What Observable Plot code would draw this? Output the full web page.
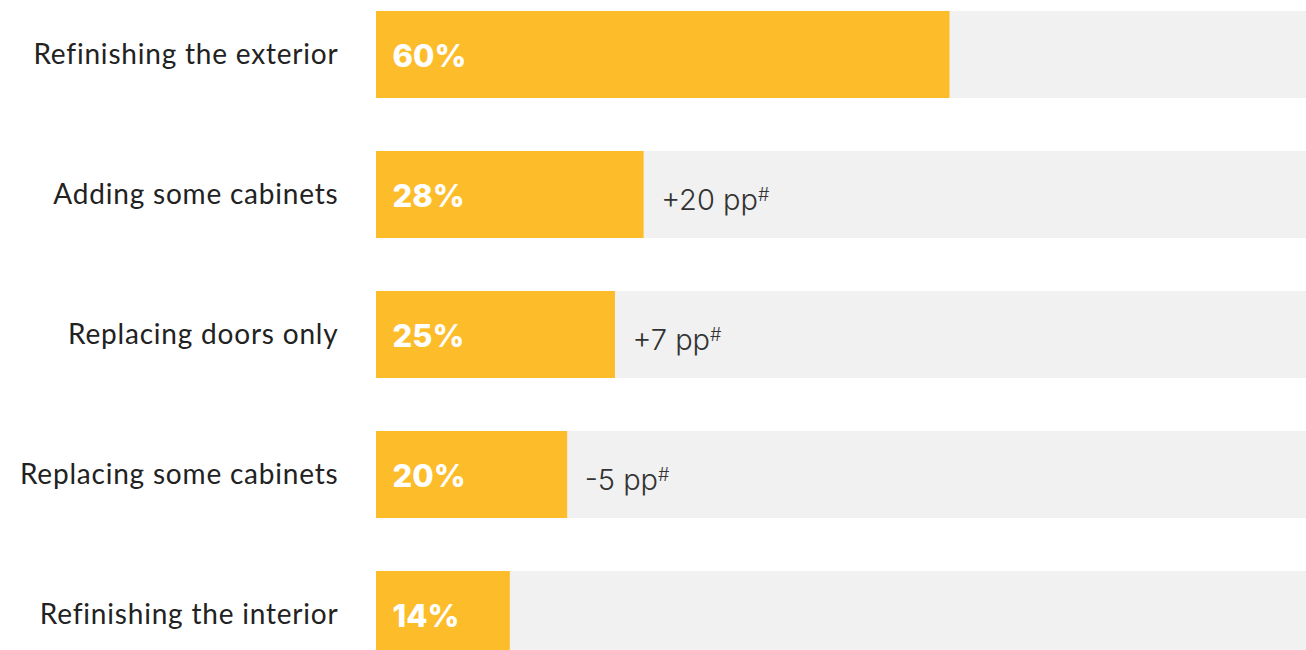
<!DOCTYPE html>
<html>
<head>
<meta charset="utf-8">
<script src="https://cdn.jsdelivr.net/npm/d3@7"></script>
<script src="https://cdn.jsdelivr.net/npm/@observablehq/plot@0.6"></script>
<style>
  html, body { margin: 0; padding: 0; background: #fff; overflow: hidden; }
  #chart svg { display: block; }
  .ylab text { letter-spacing: 0.8px; }
</style>
</head>
<body>
<div id="chart"></div>
<script>
const categories = ["Refinishing the exterior", "Adding some cabinets", "Replacing doors only", "Replacing some cabinets", "Refinishing the interior"];
const values = [60, 28, 25, 20, 14];
const deltas = [null, "+20 pp", "+7 pp", "-5 pp", null];
const trackMax = 97.3;

const rows = categories.map((c, i) => ({category: c, value: values[i], delta: deltas[i], track: trackMax}));

const chart = Plot.plot({
  width: 1306,
  height: 660,
  marginLeft: 376,
  marginRight: 0,
  marginTop: 0,
  marginBottom: 0,
  x: {domain: [0, trackMax], range: [376, 1306], axis: null},
  y: {domain: categories, range: [11, 658], paddingInner: 0.3786, paddingOuter: 0, label: null},
  style: {fontFamily: "Lato, sans-serif"},
  marks: [
    Plot.barX(rows, {y: "category", x1: 0, x2: "track", fill: "#f1f1f1"}),
    Plot.barX(rows, {y: "category", x: "value", fill: "#fdbc29"}),
    Plot.text(rows, {y: "category", x: 0, text: d => d.value + "%", textAnchor: "start", dx: 16, dy: 2,
      fill: "#fff", fontSize: 31, fontWeight: 800, fontFamily: "Inter, sans-serif"}),
    Plot.text(rows.filter(d => d.delta), {y: "category", x: "value", text: "delta", textAnchor: "start", dx: 17, dy: 6,
      fill: "#333", fontSize: 29, fontWeight: 300, fontFamily: "Inter, sans-serif", className: "delta"}),
    Plot.axisY({tickSize: 0, tickPadding: 38, fontSize: 28, fill: "#222", anchor: "left", className: "ylab"})
  ]
});

d3.select(chart).selectAll(".delta text").append("tspan")
  .attr("dy", "-0.5em").attr("font-size", 18).text("#");

document.getElementById("chart").appendChild(chart);
</script>
</body>
</html>
